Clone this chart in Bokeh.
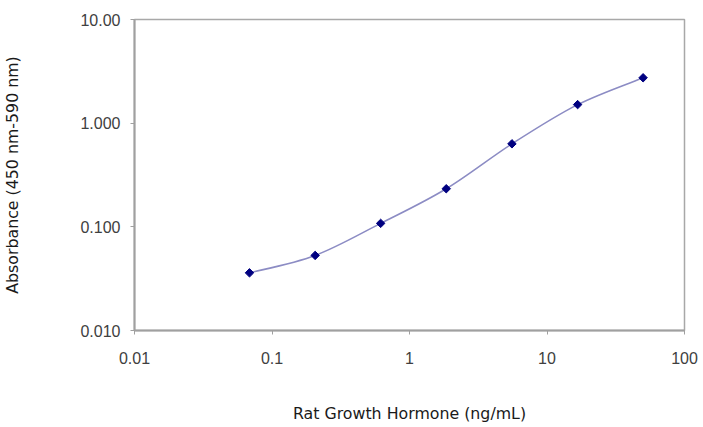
import numpy as np
from bokeh.plotting import figure
from bokeh.models import Range1d, FixedTicker, ColumnDataSource
from bokeh.embed import file_html
from bokeh.resources import INLINE

# Data (standard curve, 3-fold dilutions)
conc = [0.0686, 0.206, 0.617, 1.85, 5.56, 16.7, 50.0]
absorb = [0.036, 0.053, 0.108, 0.233, 0.632, 1.51, 2.74]

x_ticks = [0.01, 0.1, 1, 10, 100]
x_tick_labels = ["0.01", "0.1", "1", "10", "100"]
y_ticks = [0.01, 0.1, 1, 10]
y_tick_labels = ["0.010", "0.100", "1.000", "10.00"]

x_title = "Rat Growth Hormone (ng/mL)"
y_title = "Absorbance (450 nm-590 nm)"

p = figure(width=700, height=426, x_axis_type="log", y_axis_type="log",
           x_range=Range1d(0.01, 100), y_range=Range1d(0.01, 10),
           output_backend="svg", toolbar_location=None,
           min_border_left=132, min_border_right=16, min_border_top=19, min_border_bottom=96)

p.background_fill_color = "white"
p.border_fill_color = "white"
p.outline_line_color = "#a8a8a8"
p.outline_line_width = 1.5
p.xgrid.visible = False
p.ygrid.visible = False

# smooth curve (Excel-style smoothed line) as cubic Bezier segments in log space
lx = np.log10(np.array(conc, dtype=float))
ly = np.log10(np.array(absorb, dtype=float))
n = len(lx)
x0s, y0s, x1s, y1s, cx0s, cy0s, cx1s, cy1s = [], [], [], [], [], [], [], []
for i in range(n - 1):
    pxm = lx[i - 1] if i > 0 else lx[i]
    pym = ly[i - 1] if i > 0 else ly[i]
    pxp = lx[i + 2] if i + 2 < n else lx[i + 1]
    pyp = ly[i + 2] if i + 2 < n else ly[i + 1]
    c1x = lx[i] + (lx[i + 1] - pxm) / 6.0
    c1y = ly[i] + (ly[i + 1] - pym) / 6.0
    c2x = lx[i + 1] - (pxp - lx[i]) / 6.0
    c2y = ly[i + 1] - (pyp - ly[i]) / 6.0
    x0s.append(10 ** lx[i]); y0s.append(10 ** ly[i])
    x1s.append(10 ** lx[i + 1]); y1s.append(10 ** ly[i + 1])
    cx0s.append(10 ** c1x); cy0s.append(10 ** c1y)
    cx1s.append(10 ** c2x); cy1s.append(10 ** c2y)

bsrc = ColumnDataSource(dict(x0=x0s, y0=y0s, x1=x1s, y1=y1s,
                             cx0=cx0s, cy0=cy0s, cx1=cx1s, cy1=cy1s))
p.bezier(x0="x0", y0="y0", x1="x1", y1="y1", cx0="cx0", cy0="cy0",
         cx1="cx1", cy1="cy1", source=bsrc, line_color="#8c8cc4", line_width=1.6)

p.scatter(conc, absorb, marker="square", angle=np.pi / 4, size=6,
          fill_color="#000080", line_color="#000080")

# axes
for ax in (p.xaxis[0], p.yaxis[0]):
    ax.axis_line_color = "#a0a0a0"
    ax.axis_line_width = 2
    ax.major_tick_line_color = "#a0a0a0"
    ax.major_tick_line_width = 1
    ax.major_tick_in = 0
    ax.major_tick_out = 4
    ax.minor_tick_line_color = None
    ax.major_label_text_font = "Liberation Sans"
    ax.major_label_text_font_size = "16px"
    ax.major_label_text_color = "#404040"
    ax.axis_label_text_font = "DejaVu Sans"
    ax.axis_label_text_font_size = "15.8px"
    ax.axis_label_text_font_style = "normal"
    ax.axis_label_text_color = "#1a1a1a"

p.xaxis.ticker = FixedTicker(ticks=x_ticks)
p.xaxis.major_label_overrides = {t: l for t, l in zip(x_ticks, x_tick_labels)}
p.yaxis.ticker = FixedTicker(ticks=y_ticks)
p.yaxis.major_label_overrides = {t: l for t, l in zip(y_ticks, y_tick_labels)}

p.xaxis.major_label_standoff = 17
p.yaxis.major_label_standoff = 10
p.xaxis.axis_label = x_title
p.xaxis.axis_label_standoff = 37
p.yaxis.axis_label = y_title
p.yaxis.axis_label_standoff = 55

open("out.html", "w").write(file_html(p, INLINE))
